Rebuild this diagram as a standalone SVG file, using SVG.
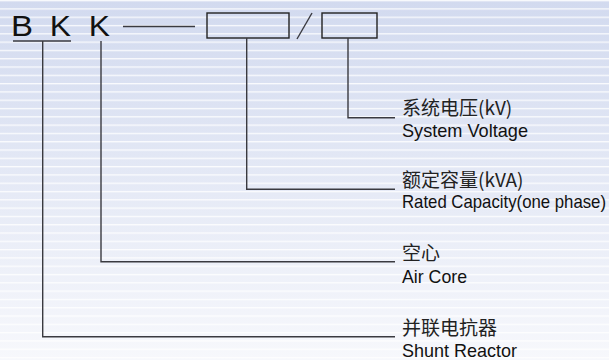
<svg xmlns="http://www.w3.org/2000/svg" width="609" height="360" viewBox="0 0 609 360">
<defs>
<linearGradient id="bg" x1="0" y1="0" x2="0" y2="1">
<stop offset="0" stop-color="#d2daef"/>
<stop offset="1" stop-color="#f7f8fc"/>
</linearGradient>
<pattern id="stripes" x="0" y="0" width="609" height="8.3" patternUnits="userSpaceOnUse">
<rect x="0" y="0" width="609" height="1.3" fill="#ffffff" opacity="0.85"/>
</pattern>
<style>
.code{font-family:"Liberation Sans",Arial,sans-serif;font-size:30px;fill:#111}
.zh{font-family:"Noto Sans CJK SC",sans-serif;font-size:19px;fill:#222}
.en{font-family:"Liberation Sans",Arial,sans-serif;font-size:18.5px;fill:#111}
.ln{stroke:#3a3a40;stroke-width:1.4;fill:none}
.box{stroke:#222;stroke-width:1.4;fill:none}
</style>
</defs>
<rect width="609" height="360" fill="url(#bg)"/>
<rect width="609" height="360" fill="url(#stripes)"/>
<g id="code">
<text class="code" x="11" y="36" textLength="22" lengthAdjust="spacingAndGlyphs">B</text>
<text class="code" x="49.7" y="36" textLength="21.2" lengthAdjust="spacingAndGlyphs">K</text>
<text class="code" x="88.7" y="36" textLength="21.2" lengthAdjust="spacingAndGlyphs">K</text>
<line class="ln" x1="13" y1="41" x2="71" y2="41"/>
<line class="ln" x1="123" y1="26.5" x2="195" y2="26.5"/>
<rect class="box" x="207" y="13" width="82" height="25"/>
<line class="ln" x1="297" y1="39" x2="312" y2="13"/>
<rect class="box" x="322" y="13" width="55" height="25"/>
</g>
<g id="connectors">
<polyline class="ln" points="348,38 348,117.7 395,117.7"/>
<polyline class="ln" points="246.7,38 246.7,189.3 395,189.3"/>
<polyline class="ln" points="101,41 101,261.7 395,261.7"/>
<polyline class="ln" points="42.7,41 42.7,336.7 395,336.7"/>
</g>
<g id="voltage">
<text class="zh" x="402" y="115">系统电压(kV)</text>
<text class="en" x="402" y="137" textLength="126" lengthAdjust="spacingAndGlyphs">System Voltage</text>
</g>
<g id="capacity">
<text class="zh" x="402" y="187">额定容量(kVA)</text>
<text class="en" x="402" y="208" textLength="204" lengthAdjust="spacingAndGlyphs">Rated Capacity(one phase)</text>
</g>
<g id="aircore">
<text class="zh" x="402" y="260">空心</text>
<text class="en" x="402" y="283" textLength="65" lengthAdjust="spacingAndGlyphs">Air Core</text>
</g>
<g id="shunt">
<text class="zh" x="402" y="335">并联电抗器</text>
<text class="en" x="402" y="357" textLength="115" lengthAdjust="spacingAndGlyphs">Shunt Reactor</text>
</g>
</svg>
